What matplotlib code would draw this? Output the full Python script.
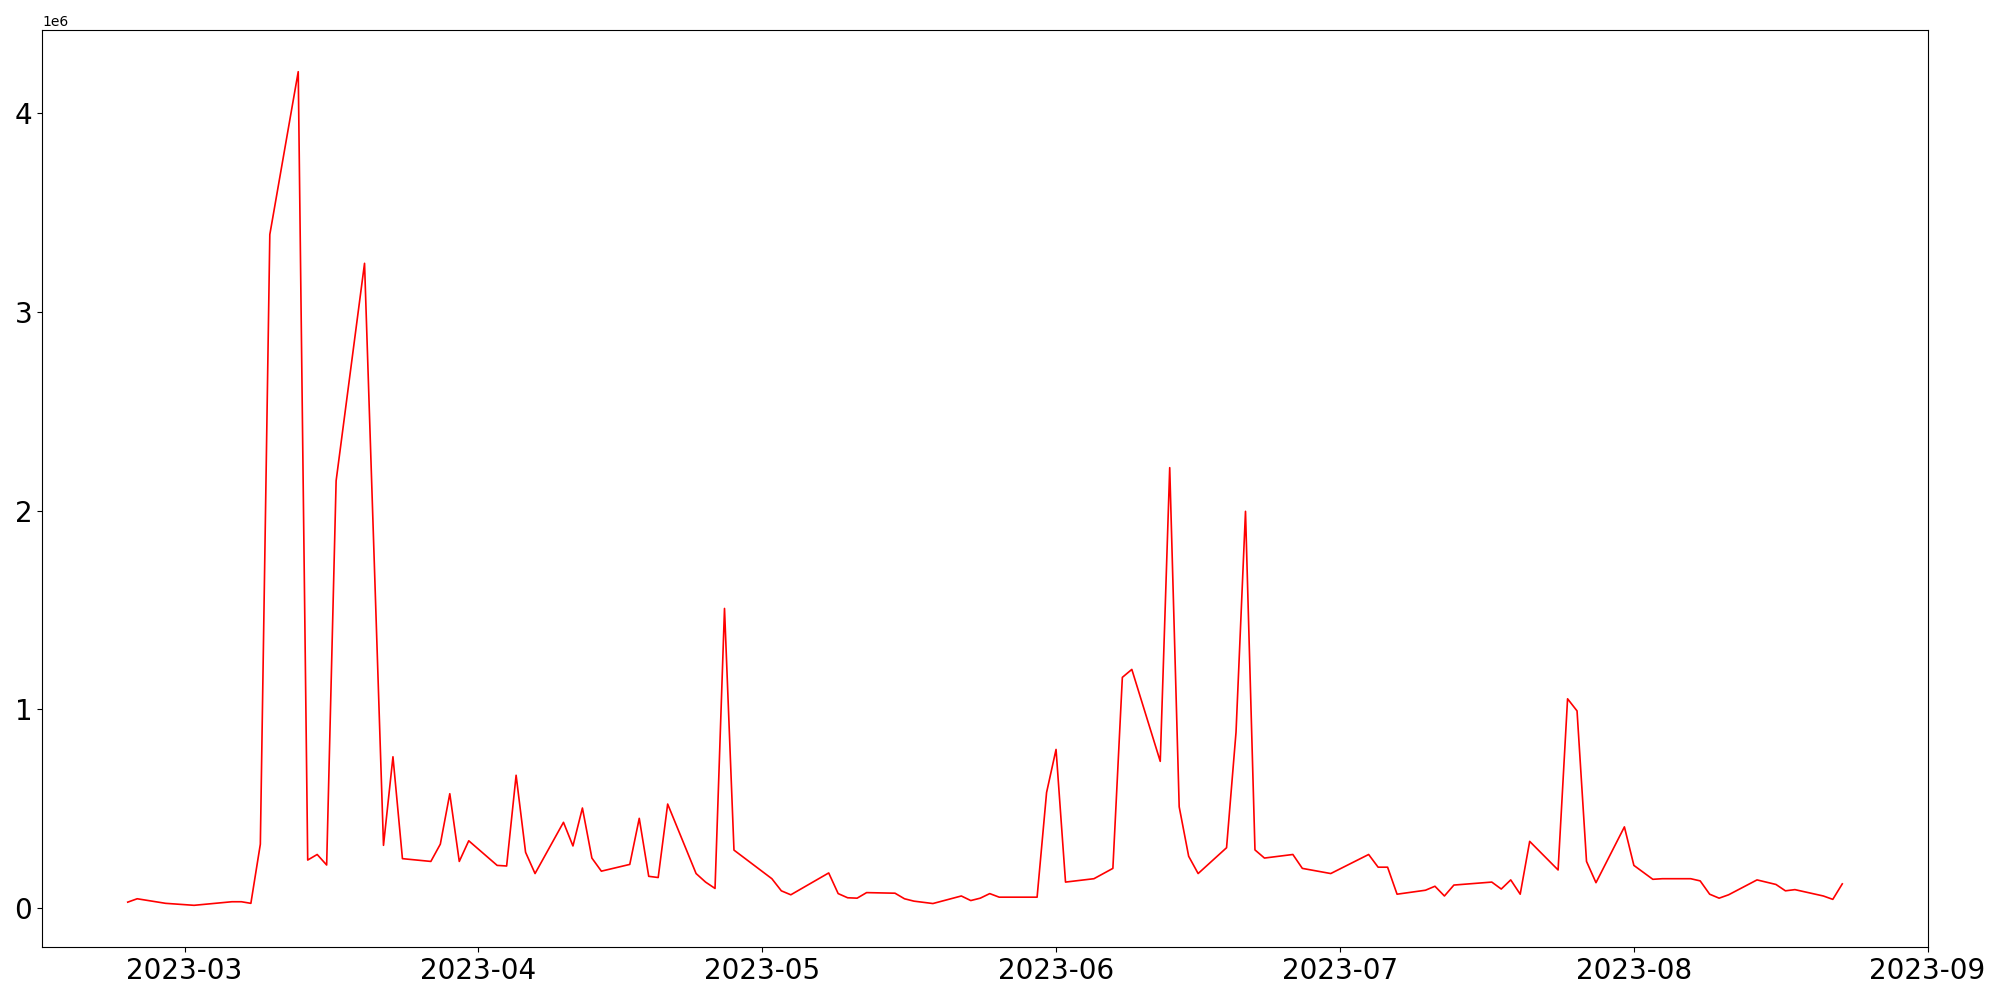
import matplotlib
matplotlib.use("Agg")
import matplotlib.pyplot as plt
import pandas as pd

dates = [
    "2023-02-23", "2023-02-24", "2023-02-27", "2023-03-02", "2023-03-06", "2023-03-07",
    "2023-03-08", "2023-03-09", "2023-03-10", "2023-03-13", "2023-03-14", "2023-03-15",
    "2023-03-16", "2023-03-17", "2023-03-20", "2023-03-22", "2023-03-23", "2023-03-24",
    "2023-03-27", "2023-03-28", "2023-03-29", "2023-03-30", "2023-03-31", "2023-04-03",
    "2023-04-04", "2023-04-05", "2023-04-06", "2023-04-07", "2023-04-10", "2023-04-11",
    "2023-04-12", "2023-04-13", "2023-04-14", "2023-04-17", "2023-04-18", "2023-04-19",
    "2023-04-20", "2023-04-21", "2023-04-24", "2023-04-25", "2023-04-26", "2023-04-27",
    "2023-04-28", "2023-05-02", "2023-05-03", "2023-05-04", "2023-05-08", "2023-05-09",
    "2023-05-10", "2023-05-11", "2023-05-12", "2023-05-15", "2023-05-16", "2023-05-17",
    "2023-05-19", "2023-05-22", "2023-05-23", "2023-05-24", "2023-05-25", "2023-05-26",
    "2023-05-30", "2023-05-31", "2023-06-01", "2023-06-02", "2023-06-05", "2023-06-07",
    "2023-06-08", "2023-06-09", "2023-06-12", "2023-06-13", "2023-06-14", "2023-06-15",
    "2023-06-16", "2023-06-19", "2023-06-20", "2023-06-21", "2023-06-22", "2023-06-23",
    "2023-06-26", "2023-06-27", "2023-06-30", "2023-07-04", "2023-07-05", "2023-07-06",
    "2023-07-07", "2023-07-10", "2023-07-11", "2023-07-12", "2023-07-13", "2023-07-17",
    "2023-07-18", "2023-07-19", "2023-07-20", "2023-07-21", "2023-07-24", "2023-07-25",
    "2023-07-26", "2023-07-27", "2023-07-28", "2023-07-31", "2023-08-01", "2023-08-03",
    "2023-08-04", "2023-08-07", "2023-08-08", "2023-08-09", "2023-08-10", "2023-08-11",
    "2023-08-14", "2023-08-16", "2023-08-17", "2023-08-18", "2023-08-21", "2023-08-22",
    "2023-08-23",
]

values = [
    28000, 45000, 22000, 12000, 30000, 30000,
    22000, 320000, 3390000, 4210000, 240000, 268000,
    215000, 2150000, 3245000, 314000, 760000, 247000,
    233000, 320000, 574000, 233000, 337000, 213000,
    210000, 667000, 279000, 172000, 430000, 311000,
    502000, 250000, 184000, 218000, 450000, 158000,
    152000, 522000, 172000, 129000, 97000, 1507000,
    290000, 146000, 85000, 65000, 175000, 71000,
    50000, 48000, 76000, 73000, 45000, 33000,
    21000, 59000, 36000, 48000, 71000, 53000,
    53000, 580000, 797000, 129000, 146000, 198000,
    1160000, 1200000, 737000, 2216000, 508000, 259000,
    172000, 302000, 884000, 1996000, 291000, 250000,
    268000, 198000, 172000, 268000, 204000, 204000,
    68000, 88000, 108000, 59000, 114000, 129000,
    94000, 140000, 68000, 334000, 190000, 1052000,
    991000, 233000, 126000, 407000, 213000, 143000,
    146000, 146000, 135000, 68000, 48000, 65000,
    140000, 117000, 85000, 91000, 59000, 42000,
    120000,
]

x = pd.to_datetime(dates)

fig = plt.figure(figsize=(20, 10), dpi=100)
ax = fig.add_axes([0.021, 0.053, 0.943, 0.917])
ax.plot(x, values, color="red", linewidth=1.2)
ax.tick_params(axis="both", labelsize=20)

fig.savefig("out.png", dpi=100)
